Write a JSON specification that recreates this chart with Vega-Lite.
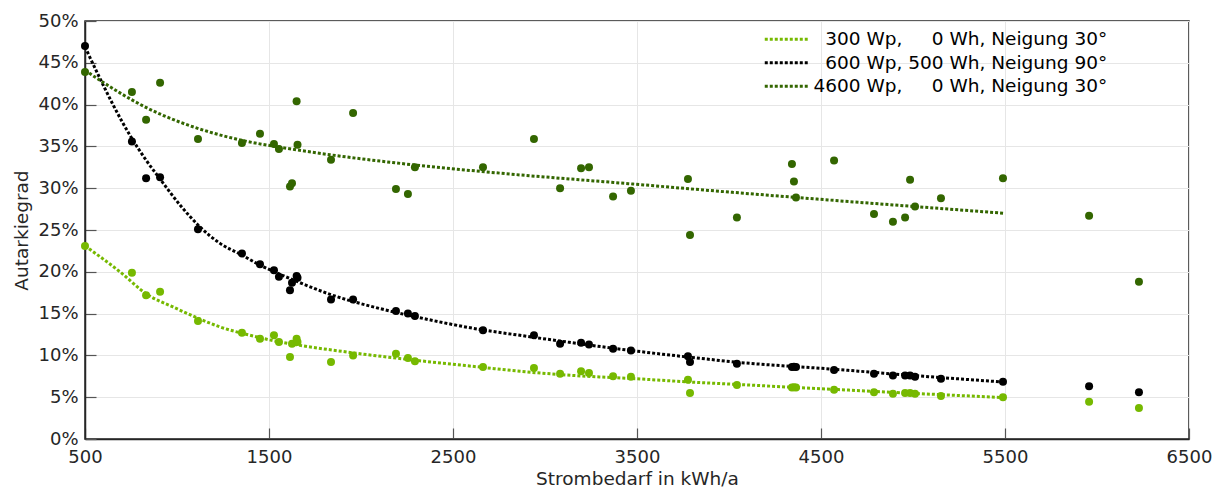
{
  "$schema": "https://vega.github.io/schema/vega-lite/v6.json",
  "width": 1104,
  "height": 418,
  "autosize": {"type": "none"},
  "padding": {"left": 85, "top": 21, "right": 30, "bottom": 49},
  "background": "white",
  "datasets": {
    "pts": [
      {"x": 500, "s": "300", "y": 0.231}, {"x": 500, "s": "600", "y": 0.470}, {"x": 500, "s": "4600", "y": 0.439},
      {"x": 755, "s": "300", "y": 0.199}, {"x": 755, "s": "600", "y": 0.356}, {"x": 755, "s": "4600", "y": 0.415},
      {"x": 832, "s": "300", "y": 0.172}, {"x": 832, "s": "600", "y": 0.312}, {"x": 832, "s": "4600", "y": 0.382},
      {"x": 908, "s": "300", "y": 0.176}, {"x": 908, "s": "600", "y": 0.313}, {"x": 908, "s": "4600", "y": 0.426},
      {"x": 1114, "s": "300", "y": 0.141}, {"x": 1114, "s": "600", "y": 0.251}, {"x": 1114, "s": "4600", "y": 0.359},
      {"x": 1353, "s": "300", "y": 0.127}, {"x": 1353, "s": "600", "y": 0.222}, {"x": 1353, "s": "4600", "y": 0.354},
      {"x": 1451, "s": "300", "y": 0.120}, {"x": 1451, "s": "600", "y": 0.209}, {"x": 1451, "s": "4600", "y": 0.365},
      {"x": 1527, "s": "300", "y": 0.124}, {"x": 1527, "s": "600", "y": 0.202}, {"x": 1527, "s": "4600", "y": 0.353},
      {"x": 1554, "s": "300", "y": 0.116}, {"x": 1554, "s": "600", "y": 0.194}, {"x": 1554, "s": "4600", "y": 0.347},
      {"x": 1614, "s": "300", "y": 0.098}, {"x": 1614, "s": "600", "y": 0.178}, {"x": 1614, "s": "4600", "y": 0.302},
      {"x": 1625, "s": "300", "y": 0.114}, {"x": 1625, "s": "600", "y": 0.187}, {"x": 1625, "s": "4600", "y": 0.306},
      {"x": 1650, "s": "300", "y": 0.120}, {"x": 1650, "s": "600", "y": 0.195}, {"x": 1650, "s": "4600", "y": 0.404},
      {"x": 1655, "s": "300", "y": 0.116}, {"x": 1655, "s": "600", "y": 0.193}, {"x": 1655, "s": "4600", "y": 0.352},
      {"x": 1837, "s": "300", "y": 0.092}, {"x": 1837, "s": "600", "y": 0.167}, {"x": 1837, "s": "4600", "y": 0.334},
      {"x": 1957, "s": "300", "y": 0.100}, {"x": 1957, "s": "600", "y": 0.167}, {"x": 1957, "s": "4600", "y": 0.390},
      {"x": 2190, "s": "300", "y": 0.102}, {"x": 2190, "s": "600", "y": 0.153}, {"x": 2190, "s": "4600", "y": 0.299},
      {"x": 2255, "s": "300", "y": 0.097}, {"x": 2255, "s": "600", "y": 0.150}, {"x": 2255, "s": "4600", "y": 0.293},
      {"x": 2293, "s": "300", "y": 0.093}, {"x": 2293, "s": "600", "y": 0.147}, {"x": 2293, "s": "4600", "y": 0.325},
      {"x": 2663, "s": "300", "y": 0.086}, {"x": 2663, "s": "600", "y": 0.130}, {"x": 2663, "s": "4600", "y": 0.325},
      {"x": 2940, "s": "300", "y": 0.085}, {"x": 2940, "s": "600", "y": 0.124}, {"x": 2940, "s": "4600", "y": 0.359},
      {"x": 3082, "s": "300", "y": 0.078}, {"x": 3082, "s": "600", "y": 0.114}, {"x": 3082, "s": "4600", "y": 0.300},
      {"x": 3196, "s": "300", "y": 0.081}, {"x": 3196, "s": "600", "y": 0.115}, {"x": 3196, "s": "4600", "y": 0.324},
      {"x": 3239, "s": "300", "y": 0.079}, {"x": 3239, "s": "600", "y": 0.113}, {"x": 3239, "s": "4600", "y": 0.325},
      {"x": 3370, "s": "300", "y": 0.075}, {"x": 3370, "s": "600", "y": 0.108}, {"x": 3370, "s": "4600", "y": 0.290},
      {"x": 3467, "s": "300", "y": 0.0745}, {"x": 3467, "s": "600", "y": 0.106}, {"x": 3467, "s": "4600", "y": 0.297},
      {"x": 3777, "s": "300", "y": 0.071}, {"x": 3777, "s": "600", "y": 0.099}, {"x": 3777, "s": "4600", "y": 0.311},
      {"x": 3788, "s": "300", "y": 0.055}, {"x": 3788, "s": "600", "y": 0.092}, {"x": 3788, "s": "4600", "y": 0.244},
      {"x": 4043, "s": "300", "y": 0.0645}, {"x": 4043, "s": "600", "y": 0.090}, {"x": 4043, "s": "4600", "y": 0.265},
      {"x": 4342, "s": "300", "y": 0.0615}, {"x": 4342, "s": "600", "y": 0.086}, {"x": 4342, "s": "4600", "y": 0.329},
      {"x": 4353, "s": "300", "y": 0.062}, {"x": 4353, "s": "600", "y": 0.0865}, {"x": 4353, "s": "4600", "y": 0.308},
      {"x": 4364, "s": "300", "y": 0.0615}, {"x": 4364, "s": "600", "y": 0.086}, {"x": 4364, "s": "4600", "y": 0.289},
      {"x": 4571, "s": "300", "y": 0.059}, {"x": 4571, "s": "600", "y": 0.0825}, {"x": 4571, "s": "4600", "y": 0.333},
      {"x": 4788, "s": "300", "y": 0.056}, {"x": 4788, "s": "600", "y": 0.078}, {"x": 4788, "s": "4600", "y": 0.269},
      {"x": 4891, "s": "300", "y": 0.054}, {"x": 4891, "s": "600", "y": 0.076}, {"x": 4891, "s": "4600", "y": 0.260},
      {"x": 4957, "s": "300", "y": 0.055}, {"x": 4957, "s": "600", "y": 0.076}, {"x": 4957, "s": "4600", "y": 0.265},
      {"x": 4984, "s": "300", "y": 0.055}, {"x": 4984, "s": "600", "y": 0.076}, {"x": 4984, "s": "4600", "y": 0.310},
      {"x": 5011, "s": "300", "y": 0.054}, {"x": 5011, "s": "600", "y": 0.0745}, {"x": 5011, "s": "4600", "y": 0.278},
      {"x": 5152, "s": "300", "y": 0.0515}, {"x": 5152, "s": "600", "y": 0.072}, {"x": 5152, "s": "4600", "y": 0.288},
      {"x": 5489, "s": "300", "y": 0.050}, {"x": 5489, "s": "600", "y": 0.0685}, {"x": 5489, "s": "4600", "y": 0.312},
      {"x": 5957, "s": "300", "y": 0.0445}, {"x": 5957, "s": "600", "y": 0.063}, {"x": 5957, "s": "4600", "y": 0.267},
      {"x": 6228, "s": "300", "y": 0.037}, {"x": 6228, "s": "600", "y": 0.056}, {"x": 6228, "s": "4600", "y": 0.188}
    ],
    "fit": [
      {"x": 500, "s": "300", "y": 0.231}, {"x": 582, "s": "300", "y": 0.218}, {"x": 690, "s": "300", "y": 0.200},
      {"x": 837, "s": "300", "y": 0.173}, {"x": 978, "s": "300", "y": 0.158}, {"x": 1109, "s": "300", "y": 0.145},
      {"x": 1234, "s": "300", "y": 0.134}, {"x": 1380, "s": "300", "y": 0.125}, {"x": 1560, "s": "300", "y": 0.116},
      {"x": 1668, "s": "300", "y": 0.112}, {"x": 1924, "s": "300", "y": 0.104}, {"x": 2283, "s": "300", "y": 0.0945},
      {"x": 2647, "s": "300", "y": 0.086}, {"x": 2864, "s": "300", "y": 0.081}, {"x": 3120, "s": "300", "y": 0.0765},
      {"x": 3500, "s": "300", "y": 0.072}, {"x": 3842, "s": "300", "y": 0.0675}, {"x": 4114, "s": "300", "y": 0.0645},
      {"x": 4332, "s": "300", "y": 0.062}, {"x": 4650, "s": "300", "y": 0.0585}, {"x": 4967, "s": "300", "y": 0.055},
      {"x": 5500, "s": "300", "y": 0.0495},
      {"x": 500, "s": "600", "y": 0.469}, {"x": 582, "s": "600", "y": 0.431}, {"x": 652, "s": "600", "y": 0.400},
      {"x": 745, "s": "600", "y": 0.363}, {"x": 837, "s": "600", "y": 0.332}, {"x": 908, "s": "600", "y": 0.311},
      {"x": 1016, "s": "600", "y": 0.280}, {"x": 1114, "s": "600", "y": 0.256}, {"x": 1234, "s": "600", "y": 0.234},
      {"x": 1353, "s": "600", "y": 0.220}, {"x": 1451, "s": "600", "y": 0.208}, {"x": 1560, "s": "600", "y": 0.197},
      {"x": 1668, "s": "600", "y": 0.187}, {"x": 1832, "s": "600", "y": 0.173}, {"x": 2103, "s": "600", "y": 0.156},
      {"x": 2321, "s": "600", "y": 0.145}, {"x": 2647, "s": "600", "y": 0.131}, {"x": 2864, "s": "600", "y": 0.124},
      {"x": 3120, "s": "600", "y": 0.116}, {"x": 3500, "s": "600", "y": 0.105}, {"x": 3842, "s": "600", "y": 0.0965},
      {"x": 4060, "s": "600", "y": 0.0915}, {"x": 4332, "s": "600", "y": 0.087}, {"x": 4505, "s": "600", "y": 0.0845},
      {"x": 4967, "s": "600", "y": 0.0765}, {"x": 5500, "s": "600", "y": 0.068},
      {"x": 500, "s": "4600", "y": 0.441}, {"x": 582, "s": "4600", "y": 0.429}, {"x": 690, "s": "4600", "y": 0.414},
      {"x": 837, "s": "4600", "y": 0.396}, {"x": 1016, "s": "4600", "y": 0.379}, {"x": 1196, "s": "4600", "y": 0.366},
      {"x": 1380, "s": "4600", "y": 0.356}, {"x": 1560, "s": "4600", "y": 0.349}, {"x": 1832, "s": "4600", "y": 0.340},
      {"x": 2283, "s": "4600", "y": 0.328}, {"x": 2755, "s": "4600", "y": 0.318}, {"x": 3478, "s": "4600", "y": 0.305},
      {"x": 4022, "s": "4600", "y": 0.295}, {"x": 4478, "s": "4600", "y": 0.287}, {"x": 5011, "s": "4600", "y": 0.278},
      {"x": 5500, "s": "4600", "y": 0.270}
    ]
  },
  "encoding": {
    "x": {
      "field": "x", "type": "quantitative",
      "scale": {"domain": [500, 6500], "nice": false, "zero": false},
      "axis": {
        "title": "Strombedarf in kWh/a",
        "values": [500, 1500, 2500, 3500, 4500, 5500, 6500],
        "format": "d",
        "labelPadding": 20,
        "titlePadding": 3
      }
    },
    "y": {
      "field": "y", "type": "quantitative",
      "scale": {"domain": [0, 0.5], "nice": false, "zero": false},
      "axis": {
        "title": "Autarkiegrad",
        "values": [0, 0.05, 0.1, 0.15, 0.2, 0.25, 0.3, 0.35, 0.4, 0.45, 0.5],
        "format": ".0%",
        "labelPadding": 18,
        "titlePadding": 6
      }
    }
  },
  "layer": [
    {
      "data": {"name": "fit"},
      "mark": {"type": "line", "strokeDash": [3, 2], "strokeWidth": 3, "interpolate": "monotone", "clip": true},
      "encoding": {
        "stroke": {
          "field": "s", "type": "nominal",
          "scale": {"domain": ["300", "600", "4600"], "range": ["#76b900", "#000000", "#336600"]},
          "legend": {
            "title": null,
            "orient": "none",
            "legendX": 692,
            "legendY": 9,
            "padding": 0,
            "symbolType": "M-3,0H3",
            "symbolSize": 205,
            "symbolStrokeWidth": 3,
            "symbolDash": [3, 2],
            "symbolFillColor": "transparent",
            "labelOffset": 18,
            "rowPadding": 4.5,
            "labelFontSize": 18.5,
            "labelLimit": 0,
            "labelFont": "DejaVu Sans",
            "labelColor": "#000000",
            "labelExpr": "datum.value == '300' ? '\u200b\u2007300 Wp, \u2007\u20070 Wh, Neigung 30°' : datum.value == '600' ? '\u200b\u2007600 Wp, 500 Wh, Neigung 90°' : '4600 Wp, \u2007\u20070 Wh, Neigung 30°'"
          }
        }
      }
    },
    {
      "data": {"name": "pts"},
      "mark": {"type": "point", "filled": true, "size": 64, "opacity": 1},
      "encoding": {
        "fill": {
          "field": "s", "type": "nominal",
          "scale": {"domain": ["300", "600", "4600"], "range": ["#76b900", "#000000", "#336600"]},
          "legend": null
        }
      }
    }
  ],
  "config": {
    "font": "DejaVu Sans",
    "view": {"stroke": "#262626", "strokeWidth": 1.5},
    "axis": {
      "labelFontSize": 18,
      "titleFontSize": 18.5,
      "titleFontWeight": "normal",
      "labelColor": "#262626",
      "titleColor": "#262626",
      "labelFont": "DejaVu Sans",
      "titleFont": "DejaVu Sans",
      "tickSize": -11,
      "tickColor": "#555555",
      "tickWidth": 1.2,
      "domainColor": "#262626",
      "domainWidth": 1.5,
      "gridColor": "#e6e6e6",
      "gridWidth": 1,
      "labelFlush": false,
      "labelOverlap": false
    }
  }
}
